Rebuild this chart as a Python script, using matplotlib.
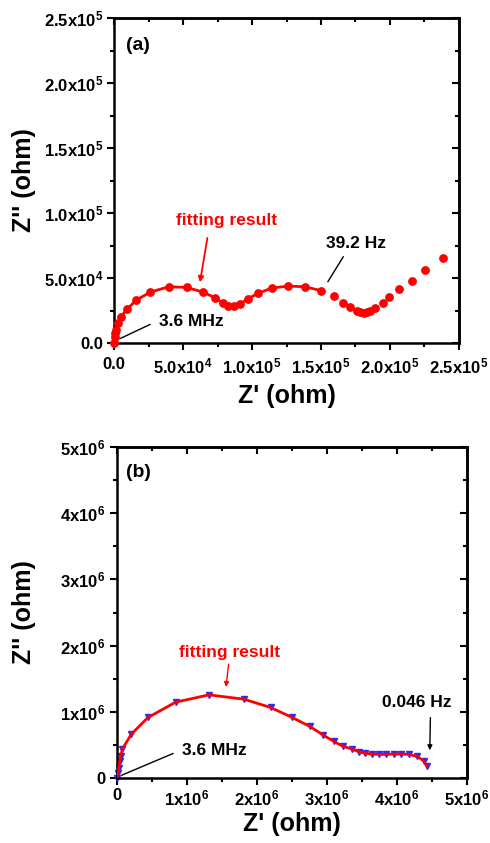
import numpy as np
import matplotlib
matplotlib.use('Agg')
import matplotlib.pyplot as plt
from matplotlib.ticker import MultipleLocator, FixedLocator, FixedFormatter

plt.rcParams['font.family'] = ['Liberation Sans', 'DejaVu Sans']
plt.rcParams['font.weight'] = 'bold'
plt.rcParams['mathtext.fontset'] = 'custom'
plt.rcParams['mathtext.rm'] = 'Liberation Sans:bold'
plt.rcParams['mathtext.bf'] = 'Liberation Sans:bold'
plt.rcParams['mathtext.default'] = 'bf'

# panel (a) data: Z' and Z'' (ohm)
za_re = [0, 500, 900, 1452, 2662, 5082, 9438, 16215, 26379, 39690, 52758, 64375,
         73087, 78895, 82767, 86881, 91480, 96804, 104306, 114229, 126087,
         138430, 150288, 159243, 166261, 171343, 176183, 178604, 181024, 183686,
         185380, 189252, 194576, 199174, 206435, 215631, 225553, 238380]
za_im = [0, 4500, 7500, 10184, 15275, 20367, 25967, 33096, 39205, 43279, 42770, 39205,
         34877, 30550, 28513, 28513, 30040, 33859, 38187, 42260, 43788,
         43279, 40224, 36150, 31059, 27495, 24694, 23676, 23421, 23676,
         24694, 27240, 30550, 35132, 41242, 47861, 56008, 65427]
n_fit_a = 23  # fit covers points up to 39.2 Hz

# panel (b) data
zb_re = [0, 19012, 28518, 42777, 57036, 80801, 209132, 446782, 841281, 1316581,
         1815646, 2195886, 2504831, 2756740, 2946860, 3098956, 3232040, 3360371,
         3455431, 3550491, 3645551, 3740611, 3845177, 3954496, 4063815, 4168381,
         4287206, 4380000, 4429796]
zb_im = [0, 75375, 150750, 251250, 326625, 437175, 663300, 914550, 1145700, 1256250,
         1190925, 1065300, 914550, 778875, 648225, 552750, 477375, 437175,
         396975, 371850, 361800, 356775, 356775, 361800, 361800, 356775,
         326625, 260000, 185925]

fig = plt.figure(figsize=(4.9, 8.43), dpi=100)
ax1 = fig.add_axes([0.2327, 0.5931, 0.704, 0.3855])
ax2 = fig.add_axes([0.2382, 0.0771, 0.7149, 0.3926])


def style_axes(ax, lim, major, minor, labels, ylab_x, xpad, xlabpad):
    ax.set_xlim(0, lim)
    ax.set_ylim(0, lim)
    ticks = [major * i for i in range(len(labels))]
    for axis in (ax.xaxis, ax.yaxis):
        axis.set_major_locator(FixedLocator(ticks))
        axis.set_major_formatter(FixedFormatter(labels))
        axis.set_minor_locator(MultipleLocator(minor))
    ax.tick_params(which='major', direction='out', length=5, width=1.5, labelsize=12)
    ax.tick_params(which='minor', direction='out', length=3, width=1.5)
    ax.tick_params(axis='x', which='major', pad=xpad)
    ax.tick_params(axis='y', which='major', pad=3)
    for s in ax.spines.values():
        s.set_linewidth(1.8)
    # top and right ticks point inward
    sec_x = ax.secondary_xaxis('top')
    sec_x.set_xticks(ticks)
    sec_x.xaxis.set_minor_locator(MultipleLocator(minor))
    sec_x.tick_params(which='both', direction='in', width=1.5, labeltop=False)
    sec_x.tick_params(which='major', length=5)
    sec_x.tick_params(which='minor', length=3)
    sec_x.spines['top'].set_linewidth(1.8)
    sec_y = ax.secondary_yaxis('right')
    sec_y.set_yticks(ticks)
    sec_y.yaxis.set_minor_locator(MultipleLocator(minor))
    sec_y.tick_params(which='both', direction='in', width=1.5, labelright=False)
    sec_y.tick_params(which='major', length=5)
    sec_y.tick_params(which='minor', length=3)
    sec_y.spines['right'].set_linewidth(1.8)
    ax.set_xlabel("Z' (ohm)", fontsize=18, fontweight='bold', labelpad=xlabpad)
    ax.set_ylabel("Z'' (ohm)", fontsize=18, fontweight='bold')
    ax.yaxis.set_label_coords(ylab_x, 0.5)


labels_a = ['0.0', r'5.0x10$^{4}$', r'1.0x10$^{5}$', r'1.5x10$^{5}$', r'2.0x10$^{5}$', r'2.5x10$^{5}$']
labels_b = ['0', r'1x10$^{6}$', r'2x10$^{6}$', r'3x10$^{6}$', r'4x10$^{6}$', r'5x10$^{6}$']

style_axes(ax1, 2.5e5, 5e4, 2.5e4, labels_a, -0.226, 5, 5)
style_axes(ax2, 5e6, 1e6, 5e5, labels_b, -0.230, 2.5, 3)

# (a)
ax1.plot(za_re[:n_fit_a], za_im[:n_fit_a], '-', color='red', lw=2, zorder=2)
ax1.plot(za_re, za_im, 'o', color='red', ms=5.3, mec='red', zorder=3, clip_on=False)
ax1.text(0.035, 0.917, '(a)', transform=ax1.transAxes, fontsize=14, fontweight='bold', va='center')
ax1.text(81884, 94615, 'fitting result', color='red', fontsize=12.5, fontweight='bold', ha='center', va='center')
ax1.annotate('', xy=(61952, 44555), xytext=(68000, 83000),
             arrowprops=dict(arrowstyle='-|>', color='red', lw=1.3, mutation_scale=8))
ax1.text(175362, 76923, '39.2 Hz', color='black', fontsize=12.5, fontweight='bold', ha='center', va='center')
ax1.annotate('', xy=(153918, 45318), xytext=(167229, 68232),
             arrowprops=dict(arrowstyle='-', color='black', lw=1))
ax1.text(55797, 16923, '3.6 MHz', color='black', fontsize=12.5, fontweight='bold', ha='center', va='center')
ax1.annotate('', xy=(2662, 2546), xytext=(28072, 15275),
             arrowprops=dict(arrowstyle='-', color='black', lw=1))

# (b)
ax2.plot(zb_re, zb_im, 'v', color='#2a2aff', ms=4.5, zorder=2, clip_on=False)
ax2.plot(zb_re, zb_im, '-', color='red', lw=2, zorder=3)
ax2.text(0.027, 0.924, '(b)', transform=ax2.transAxes, fontsize=14, fontweight='bold', va='center')
ax2.text(1617185, 1903323, 'fitting result', color='red', fontsize=12.5, fontweight='bold', ha='center', va='center')
ax2.annotate('', xy=(1554231, 1331625), xytext=(1601761, 1758750),
             arrowprops=dict(arrowstyle='-|>', color='red', lw=1, mutation_scale=7))
ax2.text(4286326, 1148036, '0.046 Hz', color='black', fontsize=12.5, fontweight='bold', ha='center', va='center')
ax2.annotate('', xy=(4467820, 376875), xytext=(4477820, 954750),
             arrowprops=dict(arrowstyle='-|>', color='black', lw=1, mutation_scale=7))
ax2.text(1388810, 422960, '3.6 MHz', color='black', fontsize=12.5, fontweight='bold', ha='center', va='center')
ax2.annotate('', xy=(33271, 25125), xytext=(841281, 386925),
             arrowprops=dict(arrowstyle='-', color='black', lw=1))

fig.savefig('out.png', dpi=100)
